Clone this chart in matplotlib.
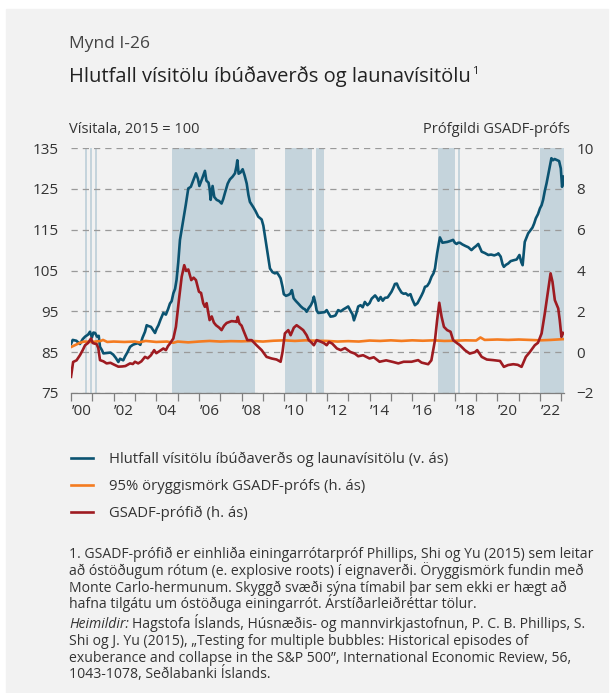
import matplotlib
matplotlib.use("Agg")
import matplotlib.pyplot as plt
from matplotlib.patches import Rectangle
from matplotlib.ticker import FixedLocator, NullFormatter

plt.rcParams["font.family"] = ["Open Sans", "DejaVu Sans"]

W, H = 614, 693

# --- data ----------------------------------------------------------------
# house price / wage index ratio, 2015 = 100 (left axis)
ratio_t = [2000.00, 2000.08, 2000.25, 2000.42, 2000.55, 2000.66, 2000.80, 2000.89, 2000.98, 2001.05,
           2001.13, 2001.22, 2001.30, 2001.36, 2001.45, 2001.52, 2001.70, 2001.85, 2001.98, 2002.10,
           2002.22, 2002.30, 2002.45, 2002.53, 2002.65, 2002.77, 2002.90, 2003.00, 2003.15, 2003.25,
           2003.35, 2003.47, 2003.55, 2003.63, 2003.75, 2003.85, 2003.94, 2004.02, 2004.10, 2004.20,
           2004.33, 2004.45, 2004.55, 2004.64, 2004.72, 2004.80, 2004.88, 2004.95, 2005.03, 2005.11,
           2005.19, 2005.27, 2005.38, 2005.50, 2005.62, 2005.73, 2005.86, 2005.95, 2006.02, 2006.15,
           2006.28, 2006.35, 2006.45, 2006.50, 2006.55, 2006.64, 2006.72, 2006.83, 2006.95, 2007.06,
           2007.14, 2007.22, 2007.35, 2007.45, 2007.58, 2007.69, 2007.76, 2007.80, 2007.86, 2007.95,
           2008.05, 2008.14, 2008.24, 2008.32, 2008.39, 2008.55, 2008.66, 2008.78, 2008.94, 2009.02,
           2009.10, 2009.20, 2009.33, 2009.45, 2009.56, 2009.66, 2009.75, 2009.83, 2009.92, 2009.98,
           2010.08, 2010.19, 2010.28, 2010.36, 2010.44, 2010.55, 2010.66, 2010.78, 2010.89, 2010.97,
           2011.05, 2011.15, 2011.25, 2011.33, 2011.39, 2011.46, 2011.52, 2011.60, 2011.75, 2011.90,
           2011.99, 2012.08, 2012.17, 2012.30, 2012.40, 2012.53, 2012.65, 2012.78, 2012.88, 2013.00,
           2013.12, 2013.20, 2013.27, 2013.38, 2013.47, 2013.58, 2013.68, 2013.78, 2013.90, 2014.00,
           2014.10, 2014.26, 2014.35, 2014.42, 2014.52, 2014.62, 2014.72, 2014.85, 2014.95, 2015.03,
           2015.12, 2015.19, 2015.28, 2015.36, 2015.50, 2015.60, 2015.70, 2015.81, 2015.92, 2016.00,
           2016.13, 2016.25, 2016.35, 2016.44, 2016.52, 2016.60, 2016.70, 2016.80, 2016.91, 2017.00,
           2017.07, 2017.17, 2017.30, 2017.42, 2017.55, 2017.65, 2017.77, 2017.92, 2018.00, 2018.08,
           2018.16, 2018.24, 2018.35, 2018.50, 2018.63, 2018.78, 2018.90, 2019.00, 2019.10, 2019.26,
           2019.40, 2019.57, 2019.70, 2019.85, 2020.00, 2020.04, 2020.15, 2020.24, 2020.30, 2020.40,
           2020.50, 2020.62, 2020.75, 2020.90, 2021.03, 2021.12, 2021.18, 2021.28, 2021.44, 2021.54,
           2021.64, 2021.72, 2021.80, 2021.90, 2021.99, 2022.07, 2022.14, 2022.22, 2022.30, 2022.42,
           2022.53, 2022.60, 2022.68, 2022.80, 2022.89, 2022.97, 2023.03, 2023.11]
ratio_v = [87.0, 88.0, 87.8, 87.0, 88.2, 88.8, 89.3, 90.0, 88.6, 89.8,
           89.7, 88.8, 89.0, 86.3, 85.5, 84.7, 84.8, 84.9, 84.4, 83.6,
           82.6, 83.4, 83.0, 83.9, 85.0, 86.3, 86.8, 87.0, 87.2, 86.8,
           88.5, 90.0, 91.6, 91.4, 91.2, 90.4, 89.7, 90.8, 91.6, 93.0,
           94.6, 94.2, 95.5, 96.9, 97.5, 99.4, 100.5, 102.7, 107.0, 112.5,
           115.0, 117.4, 121.0, 125.1, 125.5, 127.0, 128.8, 127.5, 125.7, 127.5,
           129.4, 127.0, 126.5, 125.0, 122.3, 125.7, 123.0, 122.3, 122.0, 121.4,
           122.5, 124.0, 126.3, 127.3, 128.0, 128.8, 130.5, 132.0, 128.7, 129.0,
           129.8, 128.3, 126.3, 123.5, 121.8, 120.5, 119.5, 118.2, 117.5, 116.0,
           113.3, 110.0, 105.5, 104.6, 104.3, 104.5, 103.8, 103.1, 101.0, 99.2,
           98.8, 99.0, 99.3, 100.2, 98.2, 97.5, 96.9, 96.2, 95.7, 95.5,
           94.9, 95.8, 96.5, 97.4, 98.6, 97.0, 95.2, 94.6, 94.7, 94.8,
           95.3, 94.5, 93.7, 93.8, 94.0, 95.3, 95.0, 95.5, 95.8, 96.2,
           95.0, 94.3, 92.8, 94.5, 96.2, 96.5, 96.0, 97.3, 96.5, 97.0,
           98.1, 98.9, 98.3, 97.6, 98.5, 97.6, 98.3, 98.4, 99.2, 99.8,
           100.8, 101.7, 101.8, 100.8, 99.6, 99.3, 99.4, 98.9, 99.2, 98.0,
           96.5, 97.0, 98.0, 98.9, 99.8, 101.0, 101.2, 102.0, 103.5, 104.3,
           105.5, 109.2, 113.1, 111.8, 111.9, 112.0, 112.2, 112.5, 111.8, 111.5,
           111.8, 111.8, 111.4, 111.0, 110.7, 110.0, 110.6, 111.0, 111.5, 109.6,
           109.3, 108.8, 108.9, 108.7, 109.0, 109.2, 108.4, 106.5, 105.9, 106.4,
           106.7, 107.3, 107.5, 107.7, 108.8, 107.0, 106.3, 112.0, 114.1, 114.8,
           115.5, 116.5, 117.8, 118.8, 120.2, 121.0, 122.3, 124.5, 126.3, 129.6,
           132.5, 132.0, 132.3, 132.0, 131.8, 130.0, 125.5, 128.0]

# GSADF test statistic (right axis)
gsadf_t = [2000.00, 2000.10, 2000.26, 2000.42, 2000.55, 2000.66, 2000.80, 2000.94, 2001.02, 2001.10,
           2001.20, 2001.28, 2001.36, 2001.52, 2001.67, 2001.85, 2002.00, 2002.22, 2002.40, 2002.55,
           2002.77, 2002.90, 2003.00, 2003.15, 2003.30, 2003.47, 2003.60, 2003.75, 2003.90, 2004.00,
           2004.15, 2004.33, 2004.45, 2004.55, 2004.64, 2004.80, 2004.92, 2005.06, 2005.19, 2005.31,
           2005.40, 2005.50, 2005.64, 2005.75, 2005.86, 2006.00, 2006.10, 2006.20, 2006.28, 2006.36,
           2006.50, 2006.60, 2006.70, 2006.80, 2006.95, 2007.06, 2007.18, 2007.30, 2007.53, 2007.70,
           2007.77, 2007.82, 2007.90, 2008.00, 2008.08, 2008.27, 2008.47, 2008.70, 2008.94, 2009.17,
           2009.41, 2009.64, 2009.83, 2009.92, 2010.03, 2010.19, 2010.30, 2010.45, 2010.58, 2010.74,
           2010.89, 2011.05, 2011.15, 2011.25, 2011.39, 2011.52, 2011.70, 2011.85, 2011.99, 2012.10,
           2012.25, 2012.47, 2012.65, 2012.85, 2013.10, 2013.31, 2013.47, 2013.70, 2014.00, 2014.20,
           2014.47, 2014.78, 2015.10, 2015.35, 2015.60, 2015.97, 2016.28, 2016.44, 2016.75, 2016.90,
           2017.07, 2017.17, 2017.27, 2017.38, 2017.49, 2017.64, 2017.80, 2017.92, 2018.08, 2018.24,
           2018.47, 2018.70, 2018.94, 2019.05, 2019.26, 2019.50, 2019.80, 2020.12, 2020.30, 2020.50,
           2020.74, 2020.95, 2021.13, 2021.33, 2021.52, 2021.75, 2021.90, 2022.07, 2022.22, 2022.38,
           2022.49, 2022.58, 2022.69, 2022.85, 2022.92, 2023.00, 2023.08]
gsadf_v = [-1.21, -0.48, -0.40, -0.15, 0.10, 0.34, 0.45, 0.67, 0.45, 0.42,
           0.40, 0.20, -0.39, -0.45, -0.55, -0.52, -0.60, -0.71, -0.70, -0.68,
           -0.55, -0.58, -0.47, -0.55, -0.45, -0.23, -0.30, -0.15, 0.10, -0.05,
           0.05, 0.18, 0.10, 0.30, 0.42, 0.67, 1.24, 2.55, 3.69, 4.26,
           3.98, 4.05, 3.53, 3.65, 3.53, 2.96, 2.90, 2.40, 2.22, 2.40,
           1.57, 1.75, 1.45, 1.32, 1.20, 1.08, 1.30, 1.43, 1.52, 1.50,
           1.48, 1.73, 1.40, 1.30, 1.08, 0.59, 0.59, 0.34, 0.10, -0.23,
           -0.31, -0.36, -0.47, 0.01, 0.92, 1.08, 0.83, 1.20, 1.32, 1.20,
           1.08, 0.83, 0.59, 0.50, 0.34, 0.59, 0.52, 0.45, 0.34, 0.50,
           0.42, 0.18, 0.10, 0.20, 0.01, -0.07, -0.20, -0.15, -0.31, -0.25,
           -0.47, -0.40, -0.48, -0.55, -0.47, -0.47, -0.39, -0.51, -0.59, -0.40,
           0.59, 1.57, 2.42, 1.73, 1.24, 1.08, 1.00, 0.59, 0.46, 0.34,
           0.10, -0.07, 0.00, 0.10, -0.23, -0.36, -0.39, -0.43, -0.72, -0.63,
           -0.59, -0.62, -0.72, -0.23, 0.01, 0.34, 0.46, 0.92, 1.90, 3.04,
           3.86, 3.45, 2.55, 2.14, 1.57, 0.75, 0.94]

# 95% critical value of the GSADF test (right axis)
crit_t = [2000.00, 2000.20, 2000.40, 2000.60, 2001.00, 2001.40, 2001.50, 2001.70, 2002.00, 2002.50,
          2003.00, 2003.20, 2003.50, 2004.00, 2004.50, 2004.80, 2005.00, 2005.50, 2006.00, 2006.50,
          2007.00, 2007.50, 2008.00, 2008.50, 2009.00, 2009.50, 2010.00, 2010.50, 2011.00, 2011.50,
          2012.00, 2012.50, 2013.00, 2013.50, 2014.00, 2014.50, 2015.00, 2015.50, 2016.00, 2016.50,
          2017.00, 2017.50, 2018.00, 2018.50, 2019.00, 2019.20, 2019.40, 2020.00, 2020.50, 2021.00,
          2021.50, 2022.00, 2022.50, 2023.11]
crit_v = [0.25, 0.35, 0.45, 0.52, 0.50, 0.55, 0.60, 0.50, 0.52, 0.50,
          0.52, 0.48, 0.55, 0.50, 0.52, 0.46, 0.52, 0.48, 0.52, 0.55,
          0.52, 0.54, 0.53, 0.55, 0.52, 0.56, 0.58, 0.55, 0.58, 0.56,
          0.55, 0.52, 0.54, 0.52, 0.57, 0.55, 0.58, 0.55, 0.58, 0.56,
          0.58, 0.55, 0.56, 0.58, 0.57, 0.72, 0.60, 0.62, 0.60, 0.62,
          0.60, 0.58, 0.60, 0.64]

# periods where the unit-root hypothesis is rejected (shaded)
shade_start = [2000.66, 2000.90, 2001.12, 2004.73, 2010.03, 2011.49, 2017.20, 2018.13, 2021.98]
shade_end = [2000.74, 2000.98, 2001.20, 2008.61, 2011.28, 2011.86, 2018.00, 2018.22, 2023.12]

year_ticks = list(range(2000, 2024))
year_labels = ["\u2019%02d" % (y % 100) for y in range(2000, 2023, 2)]
left_ticks = [75, 85, 95, 105, 115, 125, 135]
right_ticks = [-2, 0, 2, 4, 6, 8, 10]

labels = ["Hlutfall vísitölu íbúðaverðs og launavísitölu (v. ás)",
          "95% öryggismörk GSADF-prófs (h. ás)",
          "GSADF-prófið (h. ás)"]

BLUE = "#0b5371"
ORANGE = "#f47b20"
RED = "#9e1b21"
SHADE = "#c5d4dc"
TXT = "#333333"

fig = plt.figure(figsize=(W / 100, H / 100), dpi=100, facecolor="white")
fig.patches.append(Rectangle((6 / W, 0), (608 - 6) / W, (H - 9) / H,
                             transform=fig.transFigure, color="#f2f2f2", zorder=-10))
renderer = fig.canvas.get_renderer()


def fx(px):
    return px / W


def fy(py):
    return 1 - py / H


ax = fig.add_axes([fx(71), fy(393), fx(564) - fx(71), fy(148) - fy(393)])
ax.set_facecolor("none")
for s0, s1 in zip(shade_start, shade_end):
    ax.axvspan(s0, s1, color=SHADE, lw=0, zorder=0.2)
l_blue, = ax.plot(ratio_t, ratio_v, color=BLUE, lw=1.9, zorder=3, solid_joinstyle="round")
ax.set_xlim(2000, 2023.12)
ax.set_ylim(75, 135)
ax.set_yticks(left_ticks)
ax.yaxis.grid(True, color="#9a9a9a", lw=0.9, ls=(0, (5, 4)))
ax.set_axisbelow("line")
ax.xaxis.set_major_locator(FixedLocator(year_ticks))
ax.xaxis.set_major_formatter(NullFormatter())
ax.set_xticks([y + 0.5 for y in range(2000, 2023, 2)], minor=True)
ax.set_xticklabels(year_labels, minor=True)
ax.tick_params(axis="x", which="major", length=6, width=0.9, color="#7f7f7f")
ax.tick_params(axis="x", which="minor", length=0, pad=8, labelsize=11, labelcolor=TXT)
ax.tick_params(axis="y", length=0, pad=9, labelsize=11, labelcolor=TXT)
for side in ["left", "right", "top"]:
    ax.spines[side].set_visible(False)
ax.spines["bottom"].set_color("#7f7f7f")
ax.spines["bottom"].set_linewidth(0.9)

ax2 = ax.twinx()
l_orange, = ax2.plot(crit_t, crit_v, color=ORANGE, lw=1.9, zorder=3)
l_red, = ax2.plot(gsadf_t, gsadf_v, color=RED, lw=1.9, zorder=4)
ax2.set_ylim(-2, 10)
ax2.set_yticks(right_ticks)
ax2.tick_params(axis="y", length=0, pad=9, labelsize=11, labelcolor=TXT)
for side in ["left", "right", "top", "bottom"]:
    ax2.spines[side].set_visible(False)

# titles
fig.text(fx(69), fy(48), "Mynd I-26", fontsize=12.5, color="#444444", va="baseline")
tt = fig.text(fx(69), fy(82), "Hlutfall vísitölu íbúðaverðs og launavísitölu",
              fontsize=14.5, color="#222222", va="baseline")
tw = tt.get_window_extent(renderer).width
fig.text(fx(69 + tw + 1), fy(74), "1", fontsize=8, color="#222222", va="baseline")
fig.text(fx(69), fy(133), "Vísitala, 2015 = 100", fontsize=10.5, color=TXT, va="baseline")
fig.text(fx(570), fy(133), "Prófgildi GSADF-prófs", fontsize=10.5, color=TXT,
         va="baseline", ha="right")

fig.legend([l_blue, l_orange, l_red], labels, loc="upper left",
           bbox_to_anchor=(fx(71), fy(452)), frameon=False, fontsize=10.7,
           handlelength=1.5, handletextpad=1.05, labelspacing=0.78,
           borderpad=0, borderaxespad=0, labelcolor=TXT)

# footnotes
note = ["1. GSADF-prófið er einhliða einingarrótarpróf Phillips, Shi og Yu (2015) sem leitar",
        "að óstöðugum rótum (e. explosive roots) í eignaverði. Öryggismörk fundin með",
        "Monte Carlo-hermunum. Skyggð svæði sýna tímabil þar sem ekki er hægt að",
        "hafna tilgátu um óstöðuga einingarrót. Árstíðarleiðréttar tölur."]
src = ["Hagstofa Íslands, Húsnæðis- og mannvirkjastofnun, P. C. B. Phillips, S.",
       "Shi og J. Yu (2015), \u201eTesting for multiple bubbles: Historical episodes of",
       "exuberance and collapse in the S&P 500\u201d, International Economic Review, 56,",
       "1043-1078, Seðlabanki Íslands."]
FS = 10.1
for i, line in enumerate(note):
    fig.text(fx(69), fy(558 + i * 16.8), line, fontsize=FS, color=TXT, va="baseline")
it = fig.text(fx(69), fy(628), "Heimildir:", fontsize=FS, color=TXT, va="baseline",
              style="italic")
wpx = it.get_window_extent(renderer).width
fig.text(fx(69 + wpx + 3), fy(628), src[0], fontsize=FS, color=TXT, va="baseline")
for i, line in enumerate(src[1:], start=1):
    fig.text(fx(69), fy(628 + i * 16.8), line, fontsize=FS, color=TXT, va="baseline")

fig.savefig("out.png", dpi=100, facecolor=fig.get_facecolor())
